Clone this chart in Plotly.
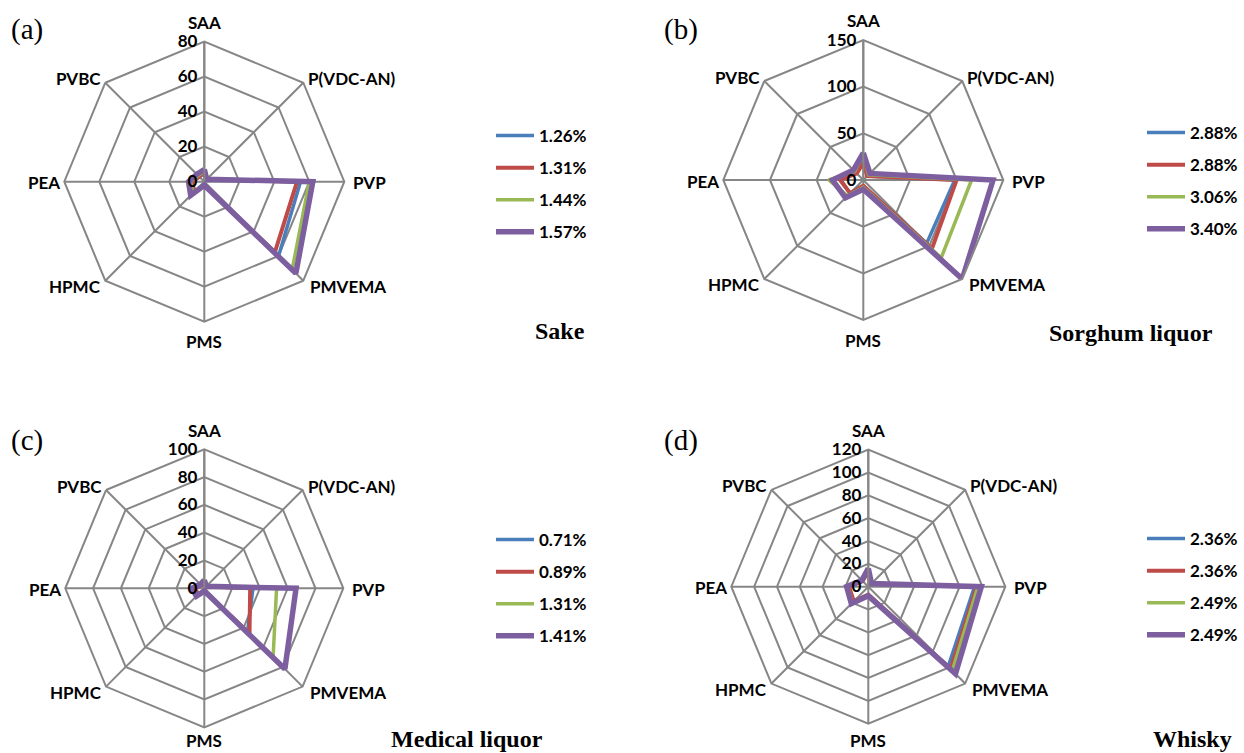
import plotly.graph_objects as go

axes_labels = ["SAA", "P(VDC-AN)", "PVP", "PMVEMA", "PMS", "HPMC", "PEA", "PVBC"]

# Panel (a) Sake
sake_names = ["1.26%", "1.31%", "1.44%", "1.57%"]
sake_blue = [5, 2, 55, 60, 2, 8, 7, 4]
sake_red = [5, 2, 53, 57, 2, 8, 7, 4]
sake_green = [6, 2, 60, 71, 2, 9, 8, 5]
sake_purple = [7, 2, 62, 74, 2, 11, 9, 6]
sake_ticks = [0, 20, 40, 60, 80]

# Panel (b) Sorghum liquor
sorg_names = ["2.88%", "2.88%", "3.06%", "3.40%"]
sorg_blue = [20, 6, 98, 96, 6, 20, 24, 10]
sorg_red = [18, 6, 100, 104, 6, 20, 25, 10]
sorg_green = [28, 8, 116, 118, 8, 24, 37, 13]
sorg_purple = [29, 10, 139, 150, 10, 27, 33, 15]
sorg_ticks = [0, 50, 100, 150]

# Panel (c) Medical liquor
med_names = ["0.71%", "0.89%", "1.31%", "1.41%"]
med_blue = [4, 2, 35, 44, 2, 6, 7, 3]
med_red = [4, 2, 33, 46, 2, 6, 7, 3]
med_green = [5, 2, 52, 70, 2, 7, 9, 4]
med_purple = [6, 2, 66, 82, 2, 8, 9, 4]
med_ticks = [0, 20, 40, 60, 80, 100]

# Panel (d) Whisky
wh_names = ["2.36%", "2.36%", "2.49%", "2.49%"]
wh_blue = [14, 4, 93, 99, 7, 18, 17, 7]
wh_red = [14, 4, 95, 102, 7, 18, 17, 7]
wh_green = [15, 4, 96, 104, 8, 20, 18, 8]
wh_purple = [16, 4, 99, 108, 8, 21, 19, 8]
wh_ticks = [0, 20, 40, 60, 80, 100, 120]

colors = ["#4A7EBB", "#BE4B48", "#98B954", "#7D5FA0"]
widths = [3.5, 4, 3.5, 5.5]
grid = "#868686"

panels = [
    dict(polar="polar", legend="legend", names=sake_names,
         series=[sake_blue, sake_red, sake_green, sake_purple], ticks=sake_ticks,
         center=(204.3, 181.7), R=140, leg=(491, 118),
         label="(a)", label_pos=(27, 30), title="Sake", title_pos=(560, 331)),
    dict(polar="polar2", legend="legend2", names=sorg_names,
         series=[sorg_blue, sorg_red, sorg_green, sorg_purple], ticks=sorg_ticks,
         center=(863.3, 180), R=140, leg=(1142, 115),
         label="(b)", label_pos=(681, 30), title="Sorghum liquor", title_pos=(1131, 333)),
    dict(polar="polar3", legend="legend3", names=med_names,
         series=[med_blue, med_red, med_green, med_purple], ticks=med_ticks,
         center=(204.3, 588.3), R=139, leg=(491, 522),
         label="(c)", label_pos=(27, 440), title="Medical liquor", title_pos=(467, 739)),
    dict(polar="polar4", legend="legend4", names=wh_names,
         series=[wh_blue, wh_red, wh_green, wh_purple], ticks=wh_ticks,
         center=(868.3, 586.7), R=137, leg=(1142, 521),
         label="(d)", label_pos=(681, 440), title="Whisky", title_pos=(1192, 739)),
]

W, H = 1244, 753
fig = go.Figure()
layout = dict(width=W, height=H, margin=dict(l=0, r=0, t=0, b=0),
              paper_bgcolor="white", plot_bgcolor="white", annotations=[])

lab_font = dict(family="Lato", size=17, color="black", weight="bold")
D = 0.7071

def ann(text, x, y, xa, ya="middle", font=lab_font):
    return dict(text=text, x=x / W, y=1 - y / H, xref="paper", yref="paper",
                showarrow=False, xanchor=xa, yanchor=ya, font=font)

for p in panels:
    for name, vals, c, w in zip(p["names"], p["series"], colors, widths):
        fig.add_trace(go.Scatterpolar(
            r=vals + [vals[0]], theta=axes_labels + [axes_labels[0]],
            mode="lines", name=name, line=dict(color=c, width=w),
            subplot=p["polar"], legend=p["legend"], legendgroup=p["legend"] + name + c,
        ))
    cx, cy = p["center"]
    R = p["R"]
    layout[p["polar"]] = dict(
        domain=dict(x=[(cx - R) / W, (cx + R) / W], y=[1 - (cy + R) / H, 1 - (cy - R) / H]),
        gridshape="linear",
        bgcolor="white",
        angularaxis=dict(direction="clockwise", rotation=90, type="category",
                         categoryorder="array", categoryarray=axes_labels,
                         showline=True, linecolor=grid, linewidth=2,
                         gridcolor=grid, gridwidth=2, ticks="", showticklabels=False),
        radialaxis=dict(range=[0, p["ticks"][-1]], tickvals=p["ticks"], angle=90,
                        tickangle=90, side="counterclockwise",
                        showline=True, linecolor=grid, linewidth=2,
                        gridcolor=grid, gridwidth=2, ticks="",
                        tickfont=dict(family="Lato", size=17, color="black", weight="bold")),
    )
    # category labels around the octagon
    a = layout["annotations"]
    pms_y = min(cy + R + 20, H - 13)
    a.append(ann(axes_labels[0], cx, cy - R - 19, "center"))
    a.append(ann(axes_labels[1], cx + D * R + 3, cy - D * R - 4, "left"))
    a.append(ann(axes_labels[2], cx + R + 7, cy + 1, "left"))
    a.append(ann(axes_labels[3], cx + D * R + 5, cy + D * R + 6, "left"))
    a.append(ann(axes_labels[4], cx, pms_y, "center"))
    a.append(ann(axes_labels[5], cx - D * R - 2, cy + D * R + 6, "right"))
    a.append(ann(axes_labels[6], cx - R - 2, cy + 1, "right"))
    a.append(ann(axes_labels[7], cx - D * R - 2, cy - D * R - 4, "right"))

    lx, ly = p["leg"]
    layout[p["legend"]] = dict(x=lx / W, y=1 - ly / H, xanchor="left", yanchor="top",
                               itemwidth=38, tracegroupgap=7,
                               font=dict(family="Lato", size=17, color="black", weight="bold"),
                               bgcolor="rgba(0,0,0,0)")
    a.append(ann(p["label"], p["label_pos"][0], p["label_pos"][1], "center",
                 font=dict(family="Liberation Serif", size=29, color="black")))
    a.append(ann("<b>" + p["title"] + "</b>", p["title_pos"][0], p["title_pos"][1], "center",
                 font=dict(family="Liberation Serif", size=24, color="black")))

fig.update_layout(**layout)
fig.write_html("out.html", config={"displayModeBar": False},
               post_script="document.body.style.margin='0px';")
